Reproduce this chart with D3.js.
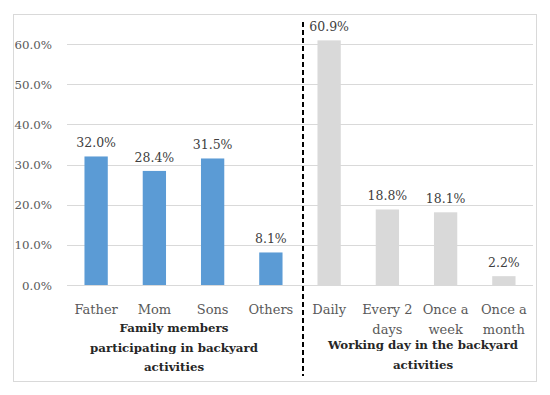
<!DOCTYPE html>
<html>
<head>
<meta charset="utf-8">
<script src="https://d3js.org/d3.v7.min.js"></script>
<style>
  body { margin: 0; background: #fff; }
</style>
</head>
<body>
<script>
// family members participating
const memberCats = ["Father", "Mom", "Sons", "Others"];
const memberVals = [32.0, 28.4, 31.5, 8.1];
// working days
const dayCats = ["Daily", "Every 2 days", "Once a week", "Once a month"];
const dayVals = [60.9, 18.8, 18.1, 2.2];
const yTicks = [0, 10, 20, 30, 40, 50, 60];

const width = 550, height = 395;
const svg = d3.select("body").append("svg")
    .attr("width", width)
    .attr("height", height)
    .attr("font-family", "'DejaVu Serif', serif");

// outer frame
svg.append("rect")
    .attr("x", 13.5).attr("y", 14.5)
    .attr("width", 523).attr("height", 367)
    .attr("fill", "none")
    .attr("stroke", "#d9d9d9");

const data = memberCats.map((c, i) => ({cat: c, v: memberVals[i], grp: 0}))
  .concat(dayCats.map((c, i) => ({cat: c, v: dayVals[i], grp: 1})));

const x = d3.scaleBand()
    .domain(data.map(d => d.cat))
    .range([67, 533])
    .paddingInner(0.6)
    .paddingOuter(0.3);

const y = d3.scaleLinear().domain([0, 60]).range([285, 44]);

// gridlines
svg.append("g")
  .selectAll("line")
  .data(yTicks)
  .join("line")
    .attr("x1", 67).attr("x2", 533)
    .attr("y1", d => Math.round(y(d)) + 0.5)
    .attr("y2", d => Math.round(y(d)) + 0.5)
    .attr("stroke", "#d9d9d9");

// y tick labels
svg.append("g")
  .selectAll("text")
  .data(yTicks)
  .join("text")
    .attr("x", 52)
    .attr("y", d => y(d) + 4.5)
    .attr("text-anchor", "end")
    .attr("font-size", 11.8)
    .attr("fill", "#595959")
    .text(d => d.toFixed(1) + "%");

// bars
svg.append("g")
  .selectAll("rect")
  .data(data)
  .join("rect")
    .attr("x", d => x(d.cat))
    .attr("width", x.bandwidth())
    .attr("y", d => y(d.v))
    .attr("height", d => y(0) - y(d.v))
    .attr("fill", d => d.grp === 0 ? "#5b9bd5" : "#d9d9d9");

// value labels
svg.append("g")
  .selectAll("text")
  .data(data)
  .join("text")
    .attr("x", d => x(d.cat) + x.bandwidth() / 2)
    .attr("y", d => y(d.v) - 9)
    .attr("text-anchor", "middle")
    .attr("font-size", 12.5)
    .attr("fill", "#404040")
    .text(d => d.v.toFixed(1) + "%");

// category labels (wrap two words onto lines where needed)
const catLines = {
  "Every 2 days": ["Every 2", "days"],
  "Once a week": ["Once a", "week"],
  "Once a month": ["Once a", "month"]
};
const cl = svg.append("g")
  .selectAll("text")
  .data(data)
  .join("text")
    .attr("text-anchor", "middle")
    .attr("font-size", 13)
    .attr("fill", "#595959");
cl.each(function(d) {
  const lines = catLines[d.cat] || [d.cat];
  d3.select(this).selectAll("tspan")
    .data(lines)
    .join("tspan")
      .attr("x", x(d.cat) + x.bandwidth() / 2)
      .attr("y", (l, i) => 314 + i * 20)
      .text(l => l);
});

// group titles
function title(lines, cx, y0) {
  svg.append("text")
      .attr("text-anchor", "middle")
      .attr("font-size", 11.8)
      .attr("font-weight", "bold")
      .attr("fill", "#262626")
    .selectAll("tspan")
    .data(lines)
    .join("tspan")
      .attr("x", cx)
      .attr("y", (l, i) => y0 + i * 19.5)
      .text(l => l);
}
title(["Family members", "participating in backyard", "activities"], 174, 332);
title(["Working day in the backyard", "activities"], 423, 349);

// dashed separator
svg.append("line")
    .attr("x1", 303).attr("x2", 303)
    .attr("y1", 22).attr("y2", 376)
    .attr("stroke", "#000")
    .attr("stroke-width", 2)
    .attr("stroke-dasharray", "5,3");
</script>
</body>
</html>
